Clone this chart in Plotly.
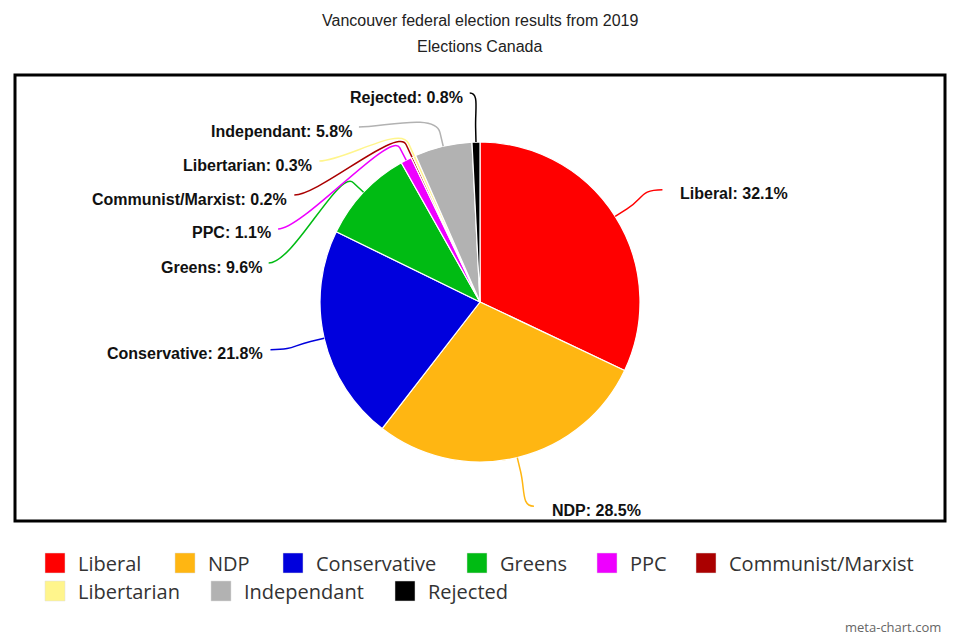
import math
import plotly.graph_objects as go

# ---- data ----
labels = ["Liberal", "NDP", "Conservative", "Greens", "PPC",
          "Communist/Marxist", "Libertarian", "Independant", "Rejected"]
values = [32.1, 28.5, 21.8, 9.6, 1.1, 0.2, 0.3, 5.8, 0.8]
colors = ["#FF0000", "#FFB612", "#0000DD", "#00BB13", "#EE00FF",
          "#AA0000", "#FFF58C", "#B2B2B2", "#000000"]
title_lines = ["Vancouver federal election results from 2019", "Elections Canada"]

# ---- layout constants (pixels) ----
W, H = 960, 640
cx, cy, r = 480, 302, 160
R = 210          # leader-line end circle
top_limit = 93
spacing = 34


def fx(x):
    return x / W


def fy(y):
    return 1 - y / H


fig = go.Figure(go.Pie(
    labels=labels, values=values, sort=False, direction="clockwise",
    rotation=0, textinfo="none", hoverinfo="label+percent",
    marker=dict(colors=colors, line=dict(color="white", width=1.2)),
    domain=dict(x=[fx(cx - r), fx(cx + r)], y=[fy(cy + r), fy(cy - r)]),
    showlegend=False,
))

total = sum(values)
cum = 0
mids = []
for v in values:
    mids.append((cum + v / 2) / total * 2 * math.pi)
    cum += v

# label positions
natural = {i: cy - R * math.cos(a) for i, a in enumerate(mids)}
ly = dict(natural)
left = [i for i, a in enumerate(mids) if math.sin(a) < 0]
left.sort(key=lambda i: -mids[i])
prev = None
for i in left:
    y = max(ly[i], top_limit)
    if prev is not None:
        y = max(y, prev + spacing)
    ly[i] = y
    prev = y

shapes = []
annotations = []
for i, a in enumerate(mids):
    s, c = math.sin(a), math.cos(a)
    side = 1 if s > 0 else -1
    y3 = ly[i]
    if abs(y3 - natural[i]) < 3:
        x3 = cx + R * s + side * 5
    else:
        dy = y3 - cy
        x3 = cx + side * (math.sqrt(max(R * R - dy * dy, 0)) + 5)
    p0 = (cx + r * s, cy - r * c)
    p1 = (cx + (r + 14) * s, cy - (r + 14) * c)
    c1 = (cx + (r + 34) * s, cy - (r + 34) * c)
    c2 = (x3 - side * min(25, abs(c1[0] - x3) + 4), y3)
    path = (f"M {fx(p0[0])},{fy(p0[1])} L {fx(p1[0])},{fy(p1[1])} "
            f"C {fx(c1[0])},{fy(c1[1])} {fx(c2[0])},{fy(c2[1])} {fx(x3)},{fy(y3)}")
    shapes.append(dict(type="path", path=path, xref="paper", yref="paper",
                       line=dict(color=colors[i], width=1.5)))
    tx = x3 + 16 if side > 0 else x3 - 5
    annotations.append(dict(
        x=fx(tx), y=fy(y3 + 4), xref="paper", yref="paper",
        xanchor="left" if side > 0 else "right", yanchor="middle",
        text=f"{labels[i]}: {values[i]}%", showarrow=False,
        font=dict(family="Liberation Sans, Arial", size=16, color="#111", weight="bold")))

# titles
for k, t in enumerate(title_lines):
    annotations.append(dict(x=0.5, y=fy(20 + 26 * k), xref="paper", yref="paper",
                            xanchor="center", yanchor="middle", text=t, showarrow=False,
                            font=dict(family="Liberation Sans, Arial", size=16, color="#222")))

# border
shapes.append(dict(type="rect", xref="paper", yref="paper",
                   x0=fx(15), x1=fx(945), y0=fy(521), y1=fy(75),
                   line=dict(color="black", width=3)))

# manual legend
legend_pos = [(45, 563), (175, 563), (283, 563), (467, 563), (597, 563), (696, 563),
              (45, 591), (211, 591), (395, 591)]
for i, (lx, lyy) in enumerate(legend_pos):
    shapes.append(dict(type="rect", xref="paper", yref="paper",
                       x0=fx(lx), x1=fx(lx + 20), y0=fy(lyy + 10), y1=fy(lyy - 10),
                       fillcolor=colors[i], line=dict(color="#dddddd", width=0.5)))
    annotations.append(dict(x=fx(lx + 31), y=fy(lyy), xref="paper", yref="paper",
                            xanchor="left", yanchor="middle", text=labels[i], showarrow=False,
                            font=dict(family="Open Sans", size=20, color="#333")))

annotations.append(dict(x=fx(943), y=fy(627), xref="paper", yref="paper",
                        xanchor="right", yanchor="middle", text="meta-chart.com",
                        showarrow=False,
                        font=dict(family="Open Sans", size=13, color="#666")))

fig.update_layout(width=W, height=H, margin=dict(l=0, r=0, t=0, b=0),
                  paper_bgcolor="white", plot_bgcolor="white",
                  shapes=shapes, annotations=annotations)
fig.write_html("out.html")
